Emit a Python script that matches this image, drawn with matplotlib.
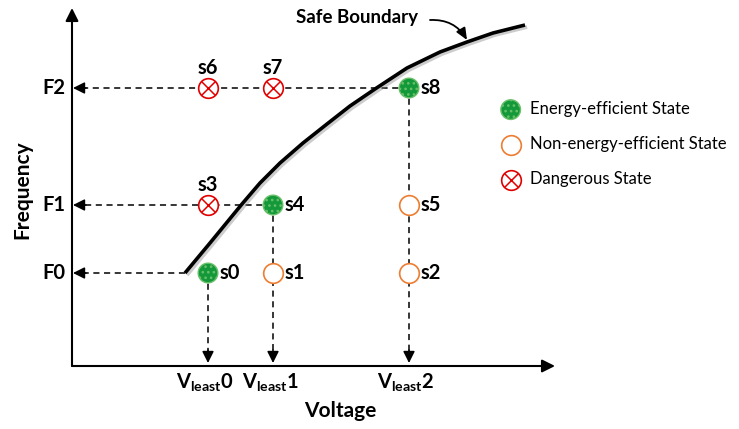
import matplotlib
matplotlib.use("Agg")
import matplotlib.pyplot as plt
import matplotlib.patheffects as pe
from matplotlib.legend_handler import HandlerTuple

# --- data (axis units) ---
voltage_levels = [1.36, 2.01, 3.37]
voltage_labels = ["0", "1", "2"]
freq_levels = [0.93, 1.61, 2.78]
freq_labels = ["F0", "F1", "F2"]

states = ["s0", "s1", "s2", "s3", "s4", "s5", "s6", "s7", "s8"]
state_v = [0, 1, 2, 0, 1, 2, 0, 1, 2]
state_f = [0, 0, 0, 1, 1, 1, 2, 2, 2]
state_kind = ["E", "N", "N", "D", "E", "N", "D", "D", "E"]

# safe boundary curve
boundary_v = [1.13, 1.38, 1.70, 1.88, 2.08, 2.31, 2.55, 2.78, 3.03, 3.35, 3.68, 3.95, 4.21, 4.53]
boundary_f = [0.93, 1.23, 1.62, 1.83, 2.03, 2.23, 2.42, 2.60, 2.77, 2.98, 3.14, 3.24, 3.33, 3.41]

# where the dashed guide lines start
hline_from = [boundary_v[0], voltage_levels[1], voltage_levels[2]]
vline_from = [freq_levels[0], freq_levels[1], freq_levels[2]]

x_end, y_end = 4.83, 3.58

plt.rcParams["font.family"] = ["Lato", "DejaVu Sans"]
plt.rcParams["mathtext.fontset"] = "custom"
plt.rcParams["mathtext.bf"] = "Lato:bold"
plt.rcParams["mathtext.rm"] = "Lato:bold"
plt.rcParams["hatch.color"] = "white"
plt.rcParams["hatch.linewidth"] = 1.1

fig = plt.figure(figsize=(7.39, 4.29), dpi=100)
ax = fig.add_axes([0, 0, 1, 1])
ax.set_xlim(-0.72, 6.67)
ax.set_ylim(-0.63, 3.66)
ax.axis("off")

head = "-|>,head_length=0.7,head_width=0.35"

# axes with arrows
for tip in [(x_end, 0), (0, y_end)]:
    ax.annotate("", xy=tip, xytext=(0, 0),
                arrowprops=dict(arrowstyle=head, color="black", lw=1.5, shrinkA=0, shrinkB=0,
                                mutation_scale=11))

# dashed guides with arrow heads
for f, x0 in zip(freq_levels, hline_from):
    ax.plot([x0, 0.1], [f, f], color="black", lw=1.1, ls=(0, (4, 3)), zorder=1)
    ax.annotate("", xy=(0.01, f), xytext=(0.14, f),
                arrowprops=dict(arrowstyle=head, color="black", lw=1.1, shrinkA=0, shrinkB=0,
                                mutation_scale=10))
for v, y0 in zip(voltage_levels, vline_from):
    ax.plot([v, v], [y0, 0.12], color="black", lw=1.1, ls=(0, (4, 3)), zorder=1)
    ax.annotate("", xy=(v, 0.03), xytext=(v, 0.16),
                arrowprops=dict(arrowstyle=head, color="black", lw=1.1, shrinkA=0, shrinkB=0,
                                mutation_scale=10))

# safe boundary
ax.plot(boundary_v, boundary_f, color="black", lw=2.6, solid_joinstyle="round",
        solid_capstyle="butt", zorder=2,
        path_effects=[pe.SimpleLineShadow(offset=(1.5, -1.5), shadow_color="gray", alpha=0.4),
                      pe.Normal()])
ax.text(2.85, 3.48, "Safe Boundary", ha="center", va="center", fontsize=13.5,
        fontweight="bold")
ax.annotate("", xy=(boundary_v[11], boundary_f[11] + 0.02), xytext=(3.58, 3.46),
            arrowprops=dict(arrowstyle="-|>,head_length=0.7,head_width=0.3", color="black",
                            lw=1.3, connectionstyle="arc3,rad=-0.3", shrinkA=0, shrinkB=0,
                            mutation_scale=10))

# states
msize = 200
green = dict(s=msize, facecolor="#14993a", edgecolor="#6abf69", linewidths=1.0, hatch="...")
orange = dict(s=msize, facecolor="white", edgecolor="#ed7d31", linewidths=1.2)
red = dict(s=msize, facecolor="white", edgecolor="#e00000", linewidths=1.2)
red_x = dict(s=100, marker="x", color="#e00000", linewidths=1.1)

xs = {k: [voltage_levels[state_v[i]] for i in range(len(states)) if state_kind[i] == k] for k in "END"}
ys = {k: [freq_levels[state_f[i]] for i in range(len(states)) if state_kind[i] == k] for k in "END"}

h_e = ax.scatter(xs["E"], ys["E"], zorder=4, **green)
h_n = ax.scatter(xs["N"], ys["N"], zorder=4, **orange)
h_d = ax.scatter(xs["D"], ys["D"], zorder=4, **red)
h_dx = ax.scatter(xs["D"], ys["D"], zorder=5, **red_x)

for i, name in enumerate(states):
    x = voltage_levels[state_v[i]]
    y = freq_levels[state_f[i]]
    if state_kind[i] == "D":
        ax.annotate(name, (x, y), xytext=(0, 14.5), textcoords="offset points",
                    ha="center", va="center", fontsize=14.5, fontweight="bold")
    else:
        ax.annotate(name, (x, y), xytext=(8, 0), textcoords="offset points",
                    ha="left", va="center", fontsize=14.5, fontweight="bold")

# tick labels
for f, lab in zip(freq_levels, freq_labels):
    ax.text(-0.07, f, lab, ha="right", va="center", fontsize=14.5, fontweight="bold")
for v, lab in zip(voltage_levels, voltage_labels):
    ax.text(v - 0.03, -0.17, r"$\mathbf{V}_{\mathbf{least}}\mathbf{%s}$" % lab,
            ha="center", va="center", fontsize=14.5)

ax.text(2.68, -0.45, "Voltage", ha="center", va="center", fontsize=15, fontweight="bold")
ax.text(-0.5, 1.76, "Frequency", ha="center", va="center", fontsize=15, fontweight="bold",
        rotation=90)

ax.legend([h_e, h_n, (h_d, h_dx)],
          ["Energy-efficient State", "Non-energy-efficient State", "Dangerous State"],
          handler_map={tuple: HandlerTuple(ndivide=1)},
          loc="upper left", bbox_to_anchor=(499 / 739, 1 - 101 / 429),
          frameon=False, fontsize=12, borderpad=0, handlelength=1.4,
          handletextpad=0.45, labelspacing=1.15, borderaxespad=0)

fig.savefig("out.png", dpi=100)
